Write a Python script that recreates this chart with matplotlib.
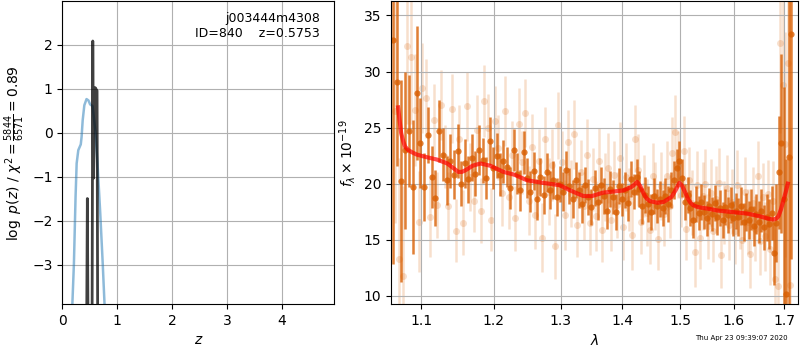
import matplotlib
matplotlib.use('Agg')
import numpy as np
import matplotlib.pyplot as plt
from matplotlib.ticker import NullLocator

## Data

# redshift probability, log p(z)
pz_z = [0.17, 0.18, 0.21, 0.24, 0.26, 0.29, 0.335, 0.35, 0.37, 0.40, 0.44, 0.475,
        0.505, 0.55, 0.60, 0.64, 0.69, 0.735, 0.77, 0.785]
pz_logp = [-4.5, -3.95, -2.98, -1.46, -0.70, -0.40, -0.27, -0.10, 0.28, 0.62, 0.76, 0.73,
           0.64, 0.60, 0.05, -0.70, -1.83, -2.97, -3.95, -4.5]

# fine grid log p(z)
fit_z = [0.436, 0.455, 0.474, 0.538, 0.554, 0.566, 0.597, 0.632, 0.647]
fit_logp = [-6, -1.5, -6, -6, 2.08, -1.04, 1.02, 0.95, -6]

# spectrum, first set (dark)
dark_wave = [1.064, 1.069, 1.074, 1.079, 1.084, 1.089, 1.094, 1.099, 1.104, 1.109,
             1.114, 1.119, 1.124, 1.129, 1.134, 1.139, 1.144, 1.149, 1.154, 1.159,
             1.164, 1.169, 1.174, 1.179, 1.184, 1.189, 1.194, 1.199, 1.204, 1.209,
             1.214, 1.219, 1.224, 1.229, 1.234, 1.239, 1.244, 1.249, 1.254, 1.259,
             1.264, 1.269, 1.274, 1.279, 1.284, 1.289, 1.294, 1.299, 1.304, 1.309,
             1.314, 1.319, 1.324, 1.329, 1.334, 1.339, 1.344, 1.349, 1.354, 1.359,
             1.364, 1.369, 1.374, 1.379, 1.384, 1.389, 1.394, 1.399, 1.404, 1.409,
             1.414, 1.419, 1.424, 1.429, 1.434, 1.439, 1.444, 1.449, 1.454, 1.459,
             1.464, 1.469, 1.474, 1.479, 1.484, 1.489, 1.494, 1.499, 1.504, 1.509,
             1.514, 1.519, 1.524, 1.529, 1.534, 1.539, 1.544, 1.549, 1.554, 1.559,
             1.564, 1.569, 1.574, 1.579, 1.584, 1.589, 1.594, 1.599, 1.604, 1.609,
             1.614, 1.619, 1.624, 1.629, 1.634, 1.639, 1.644, 1.649, 1.654, 1.659,
             1.664, 1.669, 1.674, 1.679, 1.684, 1.689, 1.694, 1.699, 1.704, 1.709,
             1.714]
dark_flux = [32.8, 29.1, 20.2, 23.0, 24.7, 19.7, 28.1, 23.6, 19.7, 24.3,
             20.6, 18.7, 24.7, 22.6, 20.3, 22.0, 20.8, 22.9, 20.0, 21.8,
             20.4, 22.3, 20.9, 23.0, 22.1, 20.5, 23.8, 21.4, 22.5, 20.8,
             22.0, 21.5, 19.6, 23.0, 20.9, 19.4, 22.8, 20.5, 19.3, 21.1,
             18.6, 20.6, 19.0, 21.0, 19.4, 20.3, 18.8, 20.0, 19.3, 21.2,
             19.8, 18.6, 20.3, 19.4, 18.2, 19.9, 18.8, 17.9, 19.6, 18.4,
             19.9, 18.9, 17.6, 19.5, 18.8, 17.5, 19.8, 18.6, 19.4, 18.3,
             20.4, 19.3, 20.6, 19.5, 18.0, 19.0, 18.2, 17.5, 18.9, 18.0,
             18.6, 17.8, 18.9, 18.2, 19.4, 20.3, 21.4, 22.0, 20.5, 18.4,
             19.0, 17.8, 16.8, 18.2, 17.4, 18.4, 17.5, 16.9, 18.0, 17.3,
             18.3, 17.0, 17.8, 16.8, 17.9, 17.2, 18.1, 16.9, 17.6, 17.0,
             18.0, 16.6, 17.5, 16.8, 17.7, 16.2, 17.3, 16.6, 17.6, 16.1,
             17.0, 16.4, 17.4, 13.8, 16.5, 21.0, 23.6, 18.6, 10.2, 22.4,
             33.3]
dark_err = [20, 7.5, 9, 7, 5, 6, 6, 4, 3, 2.5,
            2.8, 2.5, 2.8, 2.4, 2.2, 2.4, 2.2, 2.4, 2.0, 2.2,
            2.1, 2.1, 2.0, 2.2, 2.0, 1.9, 2.1, 1.9, 2.0, 1.9,
            1.9, 1.8, 1.9, 1.9, 1.8, 1.8, 1.9, 1.8, 1.8, 1.7,
            1.8, 1.7, 1.7, 1.7, 1.7, 1.7, 1.7, 1.6, 1.7, 1.7,
            1.6, 1.7, 1.6, 1.6, 1.7, 1.6, 1.6, 1.6, 1.6, 1.6,
            1.6, 1.6, 1.6, 1.6, 1.5, 1.6, 1.6, 1.5, 1.6, 1.6,
            1.6, 1.6, 1.6, 1.6, 1.6, 1.6, 1.6, 1.6, 1.6, 1.5,
            1.6, 1.6, 1.6, 1.6, 1.6, 1.7, 1.7, 1.8, 1.7, 1.6,
            1.6, 1.6, 1.6, 1.6, 1.5, 1.6, 1.5, 1.6, 1.6, 1.5,
            1.6, 1.6, 1.6, 1.6, 1.6, 1.6, 1.6, 1.6, 1.6, 1.7,
            1.7, 1.7, 1.7, 1.7, 1.8, 1.8, 1.8, 1.9, 1.9, 2.0,
            2.1, 2.2, 2.4, 2.8, 3.5, 5, 8, 10, 12, 15,
            20]

# spectrum, second set (light)
light_wave = [1.0665, 1.0715, 1.0765, 1.0815, 1.0865, 1.0915, 1.0965, 1.1015, 1.1065, 1.1115,
              1.1165, 1.1215, 1.1265, 1.1315, 1.1365, 1.1415, 1.1465, 1.1515, 1.1565, 1.1615,
              1.1665, 1.1715, 1.1765, 1.1815, 1.1865, 1.1915, 1.1965, 1.2015, 1.2065, 1.2115,
              1.2165, 1.2215, 1.2265, 1.2315, 1.2365, 1.2415, 1.2465, 1.2515, 1.2565, 1.2615,
              1.2665, 1.2715, 1.2765, 1.2815, 1.2865, 1.2915, 1.2965, 1.3015, 1.3065, 1.3115,
              1.3165, 1.3215, 1.3265, 1.3315, 1.3365, 1.3415, 1.3465, 1.3515, 1.3565, 1.3615,
              1.3665, 1.3715, 1.3765, 1.3815, 1.3865, 1.3915, 1.3965, 1.4015, 1.4065, 1.4115,
              1.4165, 1.4215, 1.4265, 1.4315, 1.4365, 1.4415, 1.4465, 1.4515, 1.4565, 1.4615,
              1.4665, 1.4715, 1.4765, 1.4815, 1.4865, 1.4915, 1.4965, 1.5015, 1.5065, 1.5115,
              1.5165, 1.5215, 1.5265, 1.5315, 1.5365, 1.5415, 1.5465, 1.5515, 1.5565, 1.5615,
              1.5665, 1.5715, 1.5765, 1.5815, 1.5865, 1.5915, 1.5965, 1.6015, 1.6065, 1.6115,
              1.6165, 1.6215, 1.6265, 1.6315, 1.6365, 1.6415, 1.6465, 1.6515, 1.6565, 1.6615,
              1.6665, 1.6715, 1.6765, 1.6815, 1.6865, 1.6915, 1.6965, 1.7015, 1.7065, 1.7115]
light_flux = [26.5, 13.3, 11.8, 32.3, 31.3, 26.6, 16.6, 28.5, 27.6, 17.0,
              25.7, 18.1, 27.0, 22.4, 18.0, 26.7, 15.8, 24.0, 16.5, 26.9,
              20.6, 18.5, 24.8, 17.6, 27.4, 25.0, 16.8, 25.6, 23.2, 19.2,
              26.5, 18.8, 22.6, 16.9, 25.3, 21.9, 26.3, 18.5, 23.3, 17.2,
              22.0, 15.2, 24.0, 19.3, 21.7, 14.4, 25.2, 21.9, 17.2, 23.7,
              19.1, 24.4, 16.3, 21.0, 18.0, 22.6, 16.5, 20.4, 17.1, 22.0,
              15.9, 19.7, 21.4, 16.8, 20.8, 18.1, 22.3, 16.1, 20.6, 18.6,
              15.4, 24.0, 21.2, 16.6, 19.8, 17.4, 15.9, 20.7, 18.9, 15.1,
              19.8, 17.3, 20.7, 18.0, 22.7, 24.6, 21.7, 19.0, 22.9, 16.0,
              20.3, 18.3, 13.9, 19.9, 15.2, 18.9, 20.0, 16.2, 19.2, 15.8,
              18.6, 20.1, 13.6, 17.4, 19.6, 16.3, 18.4, 15.8, 19.9, 17.1,
              15.0, 19.3, 16.6, 13.7, 18.3, 16.0, 20.7, 14.9, 18.8, 15.3,
              19.1, 14.2, 18.5, 11.5, 10.9, 32.5, 28.8, 23.5, 30.8, 11.0]
light_err = [10, 9, 8, 7, 6, 5, 4.5, 4, 3.5, 3.5,
             3.2, 2.9, 3.1, 2.8, 3.0, 3.1, 2.8, 3.0, 2.9, 3.1,
             3.0, 2.8, 3.1, 2.9, 3.2, 3.0, 2.8, 3.1, 2.9, 3.0,
             3.1, 2.8, 3.0, 2.9, 3.2, 2.8, 3.0, 3.1, 2.9, 3.0,
             2.9, 3.1, 2.8, 3.0, 3.2, 2.9, 3.0, 2.8, 3.1, 2.9,
             3.0, 3.1, 2.8, 2.9, 3.0, 3.2, 2.9, 2.8, 3.1, 3.0,
             2.9, 3.0, 3.1, 2.8, 3.0, 2.9, 3.2, 2.9, 3.0, 2.8,
             3.1, 3.0, 3.2, 2.9, 2.8, 3.0, 3.1, 2.9, 3.0, 2.8,
             3.0, 2.9, 3.1, 2.8, 3.2, 3.3, 3.0, 2.9, 3.1, 2.8,
             3.0, 2.9, 3.1, 3.0, 2.8, 3.0, 3.1, 2.9, 3.0, 2.8,
             3.0, 3.1, 2.9, 2.8, 3.0, 3.1, 2.9, 3.0, 3.1, 2.9,
             3.0, 3.1, 2.9, 3.0, 3.2, 2.9, 3.1, 3.0, 3.0, 3.1,
             3.0, 3.2, 3.5, 4.5, 5.5, 8, 9, 10, 12, 14]

# best-fit model
model_wave = [1.070, 1.072, 1.074, 1.0765, 1.079, 1.083, 1.088, 1.094, 1.105, 1.121,
              1.135, 1.143, 1.150, 1.155, 1.160, 1.170, 1.181, 1.195, 1.214, 1.230,
              1.249, 1.270, 1.299, 1.315, 1.336, 1.350, 1.368, 1.385, 1.402, 1.415,
              1.420, 1.425, 1.430, 1.436, 1.441, 1.447, 1.460, 1.471, 1.485, 1.492,
              1.499, 1.504, 1.509, 1.514, 1.519, 1.524, 1.530, 1.540, 1.549, 1.570,
              1.593, 1.625, 1.650, 1.670, 1.678, 1.684, 1.688, 1.693, 1.698, 1.703,
              1.707]
model_flux = [26.8, 25.6, 24.5, 23.8, 23.3, 23.0, 22.8, 22.6, 22.4, 22.15,
              21.8, 21.4, 21.05, 21.05, 21.2, 21.6, 21.8, 21.6, 21.05, 20.8,
              20.3, 20.1, 19.86, 19.4, 18.9, 18.9, 19.2, 19.3, 19.4, 19.7,
              19.9, 20.16, 19.8, 19.12, 18.7, 18.44, 18.3, 18.38, 18.82, 19.4,
              20.07, 19.8, 19.27, 18.7, 18.3, 18.08, 17.95, 17.85, 17.79, 17.6,
              17.49, 17.34, 17.1, 16.85, 16.81, 16.9, 17.1, 17.7, 18.5, 19.3,
              20.0]

wave_ticks = [1.1, 1.2, 1.3, 1.4, 1.5, 1.6, 1.7]

## Plot

orange = '#d95f02'

fig = plt.figure(figsize=(8, 3.5), dpi=100)
ax1 = fig.add_axes([0.078, 0.131, 0.340, 0.865])
ax2 = fig.add_axes([0.489, 0.131, 0.509, 0.865])

# p(z)
ax1.plot(pz_z, pz_logp, color='tab:blue', alpha=0.5, lw=1.8)
ax1.plot(fit_z, fit_logp, color='k', alpha=0.75, lw=2)
ax1.set_xlim(0, 4.96)
ax1.set_ylim(-3.9, 2.98)
ax1.set_yticks([-3, -2, -1, 0, 1, 2])
ax1.grid(True)
ax1.set_xlabel(r'$z$')
ax1.set_ylabel(r'$\log\ p(z)$ / $\chi^2=\frac{5844}{6571}=0.89$')
ax1.text(0.947, 0.965, 'j003444m4308\nID=840    z=0.5753', ha='right', va='top',
         transform=ax1.transAxes, fontsize=9)

# spectrum
ax2.errorbar(light_wave, light_flux, yerr=light_err, fmt='o', color=orange,
             alpha=0.2, ms=5, elinewidth=1.8, mew=0, zorder=1)
ax2.errorbar(dark_wave, dark_flux, yerr=dark_err, fmt='o', color=orange,
             alpha=0.8, ms=4.5, elinewidth=1.8, mew=0, zorder=2)
ax2.plot(model_wave, model_flux, color='r', alpha=0.7, lw=3, zorder=3)

ax2.set_xscale('log')
ax2.set_xticks(wave_ticks, [str(t) for t in wave_ticks])
ax2.xaxis.set_minor_locator(NullLocator())
ax2.set_xlim(1.0612, 1.7288)
ax2.set_ylim(9.26, 36.25)
ax2.grid(True)
ax2.set_xlabel(r'$\lambda$')
ax2.set_ylabel(r'$f_\lambda\times10^{-19}$')

fig.text(0.984, 0.027, 'Thu Apr 23 09:39:07 2020', ha='right', va='bottom', fontsize=5)

fig.savefig('out.png', dpi=100)
